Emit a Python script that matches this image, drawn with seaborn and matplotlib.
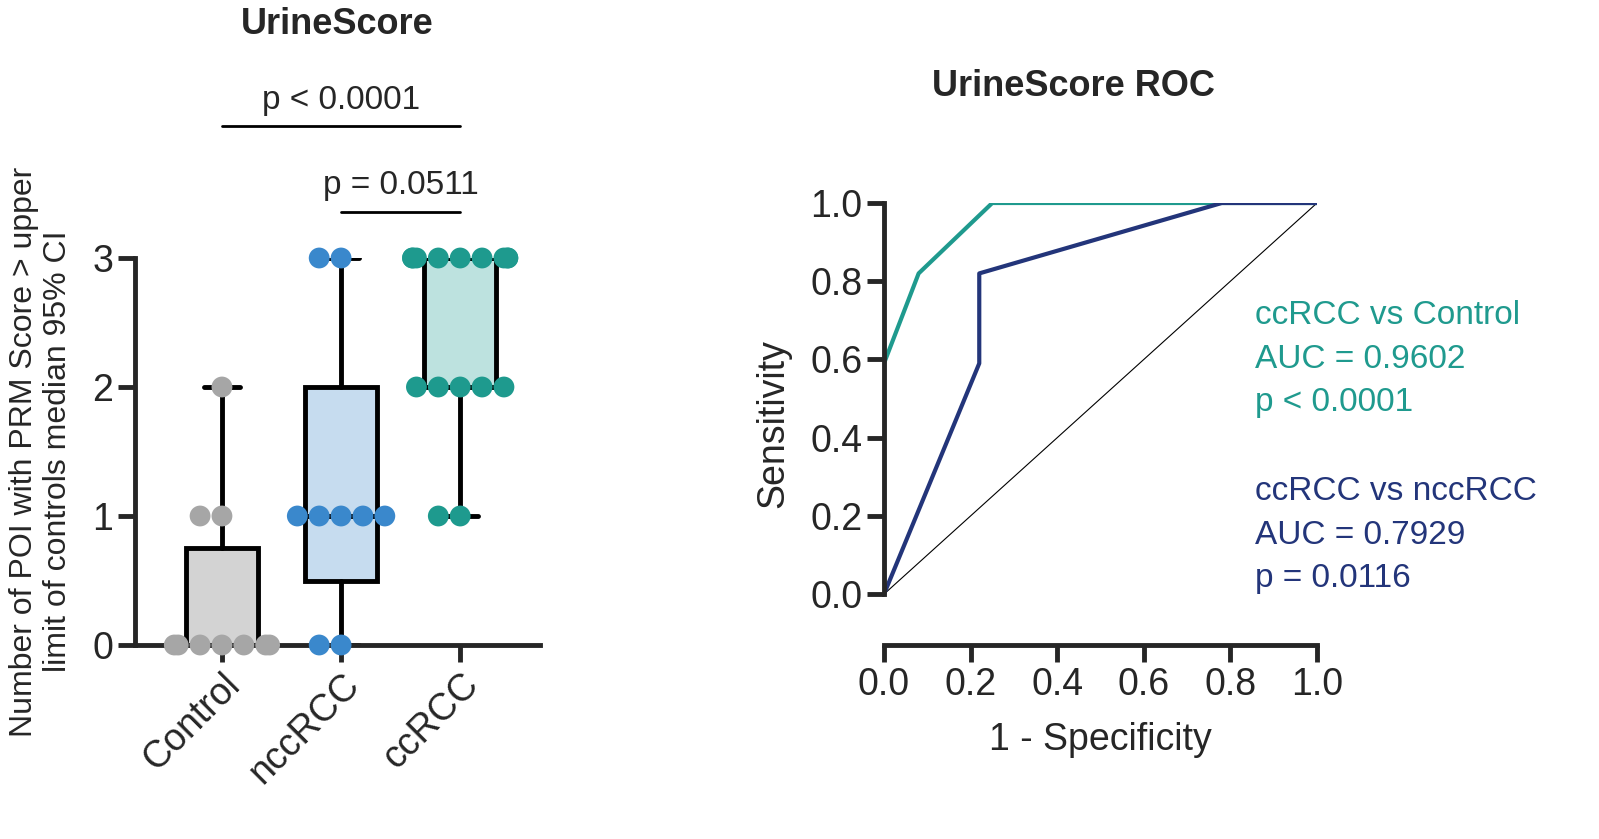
import numpy as np
import pandas as pd
import seaborn as sns
import matplotlib.pyplot as plt

sns.set_style("ticks")
plt.rcParams['font.family'] = ['Liberation Sans', 'DejaVu Sans']

groups = ["Control", "nccRCC", "ccRCC"]
control_pts = [0, 0, 0, 0, 0, 0, 0, 1, 1, 2]
nccrcc_pts = [0, 0, 1, 1, 1, 1, 1, 3, 3]
ccrcc_pts = [1, 1, 2, 2, 2, 2, 2, 3, 3, 3, 3, 3, 3, 3, 3, 3]
# box summaries (min, q1, median, q3, max) as in the reference
box_min = [0, 0, 1]
box_q1 = [0, 0.5, 2]
box_med = [0, 1, 3]
box_q3 = [0.75, 2, 3]
box_max = [2, 3, 3]

box_colors = ["#d3d3d3", "#c6dcef", "#bde2df"]
pt_colors = ["#a6a6a6", "#3a88cc", "#1e9a8e"]

roc_ctrl_fpr = [0, 0, 0.08, 0.25, 1.0]
roc_ctrl_tpr = [0, 0.59, 0.82, 1.0, 1.0]
roc_ncc_fpr = [0, 0.22, 0.22, 0.78, 1.0]
roc_ncc_tpr = [0, 0.59, 0.82, 1.0, 1.0]
teal = "#1f9a8e"
navy = "#23357a"

W, H = 1599, 839
fig = plt.figure(figsize=(W / 100, H / 100), dpi=100)

# ---- left: box plot
ax = fig.add_axes([135 / W, 1 - 645 / H, (540 - 135) / W, (645 - 258) / H])
df = pd.DataFrame({
    "group": ["Control"] * len(control_pts) + ["nccRCC"] * len(nccrcc_pts) + ["ccRCC"] * len(ccrcc_pts),
    "value": control_pts + nccrcc_pts + ccrcc_pts,
})
stats = [dict(whislo=a, q1=b, med=c, q3=d, whishi=e, fliers=[])
         for a, b, c, d, e in zip(box_min, box_q1, box_med, box_q3, box_max)]
bp = ax.bxp(stats, positions=[0, 1, 2], widths=0.6, patch_artist=True,
            boxprops=dict(linewidth=3.5), medianprops=dict(color="black", linewidth=3.5),
            whiskerprops=dict(linewidth=3.5), capprops=dict(linewidth=3.5), capwidths=0.3)
for patch, c in zip(bp["boxes"], box_colors):
    patch.set_facecolor(c)
sns.swarmplot(data=df, x="group", y="value", hue="group", order=groups, palette=pt_colors,
              size=15, edgecolor=None, linewidth=0, ax=ax, legend=False, zorder=5, warn_thresh=1)
ax.set_xlim(-0.73, 2.67)
ax.set_ylim(0, 3)
ax.set_yticks([0, 1, 2, 3])
ax.set_xticks([0, 1, 2])
ax.set_xticklabels(groups, rotation=45, ha="right", rotation_mode="anchor")
ax.set_xlabel("")
ax.set_ylabel("Number of POI with PRM Score > upper\nlimit of controls median 95% CI", fontsize=23, labelpad=14)
ax.tick_params(labelsize=27, width=3.5, length=12)
for s in ["left", "bottom"]:
    ax.spines[s].set_linewidth(3.5)
sns.despine(ax=ax)
for c in ax.collections:
    c.set_clip_on(False)
ax.plot([0, 2], [4.02, 4.02], color="black", lw=2, clip_on=False)
ax.text(1, 4.1, "p < 0.0001", ha="center", va="bottom", fontsize=24)
ax.plot([1, 2], [3.36, 3.36], color="black", lw=2, clip_on=False)
ax.text(1.5, 3.44, "p = 0.0511", ha="center", va="bottom", fontsize=24)
fig.text(337 / W, 1 - 24 / H, "UrineScore", ha="center", va="center", fontsize=26, fontweight="bold")

# ---- right: ROC
ax2 = fig.add_axes([884 / W, 1 - 645 / H, (1317 - 884) / W, (645 - 203) / H])
ax2.plot([0, 1], [0, 1], color="black", lw=0.8)
ax2.plot(roc_ctrl_fpr, roc_ctrl_tpr, color=teal, lw=3)
ax2.plot(roc_ncc_fpr, roc_ncc_tpr, color=navy, lw=3)
ax2.set_xlim(0, 1)
ax2.set_ylim(-0.13, 1)
ax2.set_xticks(np.arange(0, 1.01, 0.2))
ax2.set_yticks(np.arange(0, 1.01, 0.2))
ax2.xaxis.set_major_formatter(plt.FormatStrFormatter("%.1f"))
ax2.yaxis.set_major_formatter(plt.FormatStrFormatter("%.1f"))
ax2.tick_params(labelsize=27, width=3.5, length=12)
sns.despine(ax=ax2)
ax2.spines["left"].set_bounds(0, 1)
for s in ["left", "bottom"]:
    ax2.spines[s].set_linewidth(3.5)
ax2.set_xlabel("1 - Specificity", fontsize=27, labelpad=14)
ax2.set_ylabel("Sensitivity", fontsize=27, labelpad=14)
fig.text(1073 / W, 1 - 87 / H, "UrineScore ROC", ha="center", va="center", fontsize=26, fontweight="bold")
for i, t in enumerate(["ccRCC vs Control", "AUC = 0.9602", "p < 0.0001"]):
    fig.text(1255 / W, 1 - (316 + 43 * i) / H, t, color=teal, fontsize=24, va="center")
for i, t in enumerate(["ccRCC vs nccRCC", "AUC = 0.7929", "p = 0.0116"]):
    fig.text(1255 / W, 1 - (492 + 43 * i) / H, t, color=navy, fontsize=24, va="center")

fig.savefig("out.png", dpi=100)
